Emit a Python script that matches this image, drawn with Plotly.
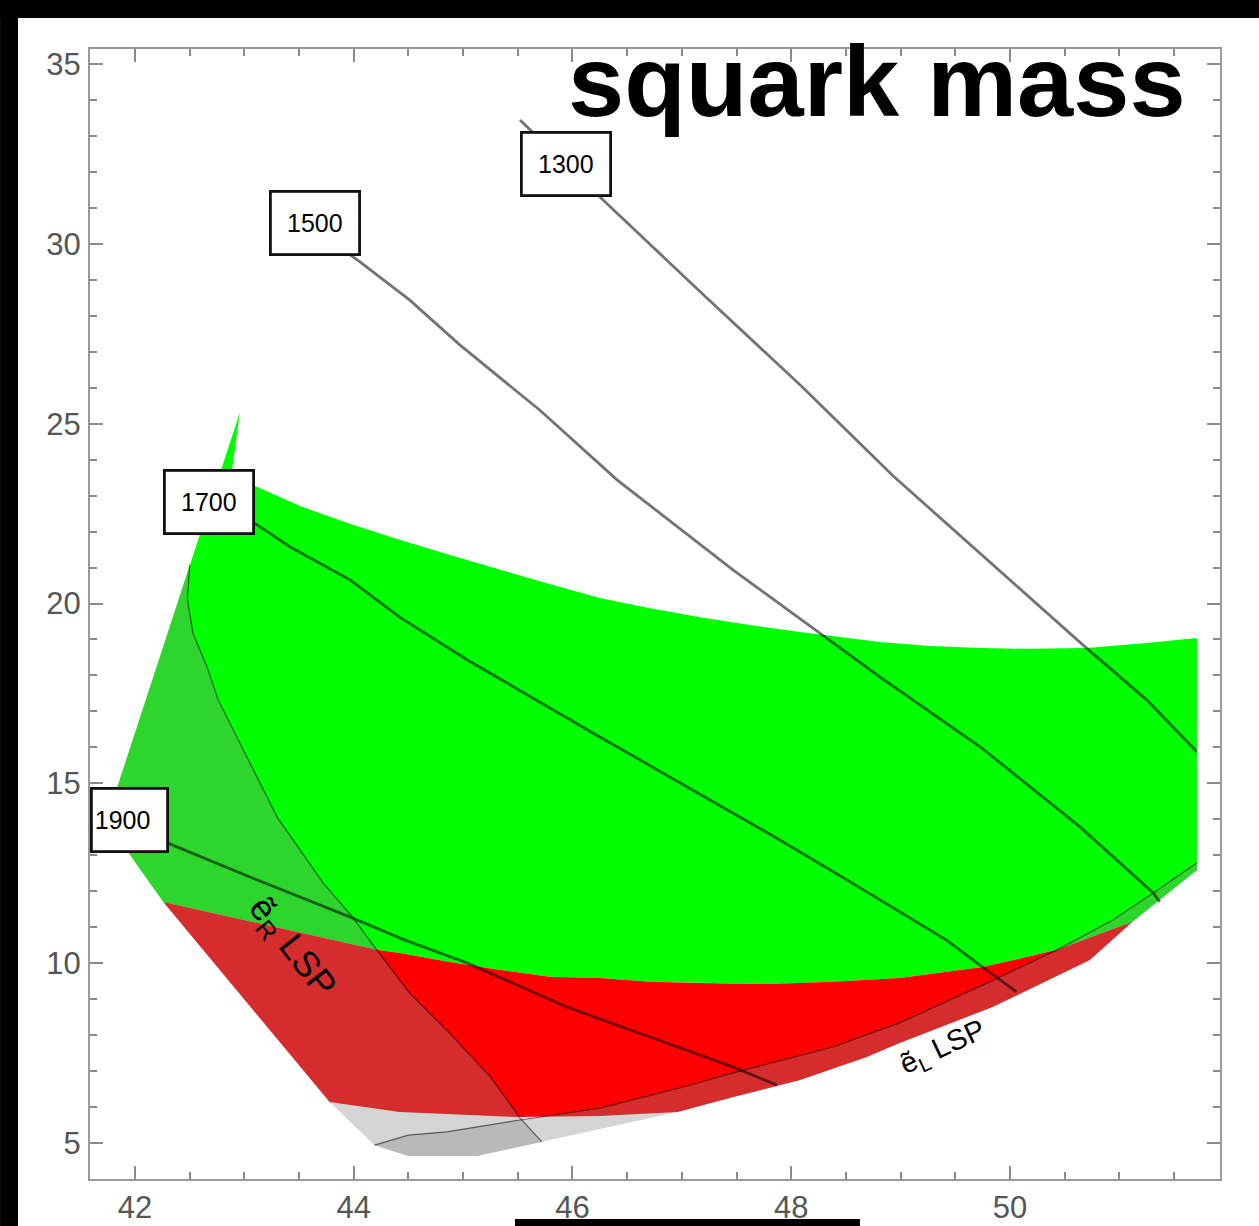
import plotly.graph_objects as go

# ---------------- data (data coordinates) ----------------
# upper boundary of the allowed (green) region, incl. the spike
upper_x = [42.96, 42.88, 43.12, 43.51, 43.97, 44.42, 44.88, 45.34, 45.79, 46.25, 46.71, 47.17, 47.62, 48.08,
           48.45, 48.81, 49.27, 49.73, 50.18, 50.70, 51.25, 51.71]
upper_y = [25.32, 23.55, 23.24, 22.71, 22.21, 21.77, 21.35, 20.93, 20.54, 20.15, 19.87, 19.62, 19.40, 19.21,
           19.07, 18.93, 18.82, 18.76, 18.74, 18.76, 18.90, 19.04]
# lower-right and left corners of the green region
right_x = [51.71, 51.37]
right_y = [12.59, 11.76]
left_x = [42.00, 41.74]
left_y = [12.81, 13.98]
# green / red boundary (left to right)
gr_x = [42.26, 44.21, 44.42, 44.88, 45.34, 45.79, 46.25, 46.71, 47.17, 47.78, 48.38, 48.99, 49.75, 50.43, 51.12]
gr_y = [11.70, 10.37, 10.28, 10.03, 9.81, 9.62, 9.59, 9.48, 9.45, 9.42, 9.48, 9.59, 9.89, 10.37, 11.15]
# lower boundary of the red region (left to right)
rl_x = [42.26, 43.78, 44.42, 45.49, 46.25, 46.96, 47.47, 48.08, 48.69, 48.99, 49.84, 50.73, 51.12, 51.37, 51.71]
rl_y = [11.70, 6.14, 5.86, 5.72, 5.75, 5.86, 6.28, 6.75, 7.39, 7.78, 8.78, 10.09, 11.15, 11.76, 12.59]
# lower boundary of the grey band (left to right)
gl_x = [43.78, 44.19, 44.50, 45.13, 45.72, 46.96]
gl_y = [6.14, 4.94, 4.64, 4.64, 5.03, 5.86]
# selectron-R LSP boundary
eR_x = [42.50, 42.48, 42.53, 42.66, 42.76, 42.99, 43.30, 43.72, 43.99, 44.21, 44.51, 44.91, 45.25, 45.52, 45.72]
eR_y = [21.07, 20.10, 19.18, 18.23, 17.32, 15.93, 14.06, 12.23, 11.28, 10.37, 9.17, 7.95, 6.84, 5.70, 5.03]
# selectron-L LSP boundary
eL_x = [44.19, 44.50, 44.85, 45.52, 46.25, 46.98, 47.47, 48.38, 48.99, 49.75, 50.43, 50.94, 51.31, 51.71]
eL_y = [4.94, 5.22, 5.31, 5.64, 5.97, 6.53, 6.95, 7.67, 8.34, 9.39, 10.37, 11.20, 11.95, 12.79]

# squark-mass contours
sq_levels = ["1300", "1500", "1700", "1900"]
c1300_x = [45.52, 46.28, 47.17, 48.08, 48.93, 49.79, 50.70, 51.25, 51.71]
c1300_y = [33.44, 31.22, 28.66, 26.08, 23.55, 21.21, 18.76, 17.32, 15.87]
c1500_x = [43.78, 44.06, 44.51, 44.97, 45.70, 46.41, 47.47, 48.29, 48.81, 49.73, 50.64, 51.31, 51.37]
c1500_y = [30.11, 29.49, 28.44, 27.19, 25.38, 23.43, 20.93, 19.12, 17.96, 16.01, 13.79, 11.95, 11.70]
c1700_x = [42.96, 43.12, 43.42, 43.97, 44.42, 45.04, 46.25, 47.17, 47.90, 48.54, 49.42, 49.75, 50.06]
c1700_y = [22.46, 22.18, 21.57, 20.65, 19.62, 18.43, 16.29, 14.68, 13.42, 12.26, 10.64, 9.89, 9.20]
c1900_x = [42.14, 42.30, 43.12, 43.97, 44.47, 45.04, 45.95, 46.86, 47.47, 47.87]
c1900_y = [13.54, 13.34, 12.31, 11.28, 10.64, 10.00, 8.78, 7.78, 7.11, 6.61]
label_x = [45.94, 43.65, 42.68, 41.95]
label_y = [32.22, 30.57, 22.81, 13.97]

x_ticks = [42, 44, 46, 48, 50]
y_ticks = [5, 10, 15, 20, 25, 30, 35]

# ---------------- figure ----------------
fig = go.Figure()


def poly(xs, ys, color):
    fig.add_trace(go.Scatter(x=xs, y=ys, mode="lines", fill="toself", fillcolor=color,
                             line=dict(width=0, color=color), hoverinfo="skip", showlegend=False))


def curve(xs, ys, color, width):
    fig.add_trace(go.Scatter(x=xs, y=ys, mode="lines", line=dict(color=color, width=width),
                             hoverinfo="skip", showlegend=False))


GREEN = "#00ff00"
RED = "#ff0000"
SHADE = "rgba(133,133,133,0.34)"

green_x = upper_x + right_x + gr_x[::-1] + left_x
green_y = upper_y + right_y + gr_y[::-1] + left_y
poly(green_x, green_y, GREEN)

red_x = gr_x + rl_x[:13][::-1]
red_y = gr_y + rl_y[:13][::-1]
poly(red_x, red_y, RED)

eRreg_x = eR_x + gl_x[3::-1] + [rl_x[0]] + left_x
eRreg_y = eR_y + gl_y[3::-1] + [rl_y[0]] + left_y
poly(eRreg_x, eRreg_y, SHADE)

eLreg_x = eL_x + rl_x[14:4:-1] + gl_x[4:0:-1]
eLreg_y = eL_y + rl_y[14:4:-1] + gl_y[4:0:-1]
poly(eLreg_x, eLreg_y, SHADE)

curve(eR_x, eR_y, "rgba(0,0,0,0.55)", 1.2)
curve(eL_x, eL_y, "rgba(0,0,0,0.55)", 1.2)

CONT = "rgba(0,0,0,0.55)"
for cx, cy in [(c1300_x, c1300_y), (c1500_x, c1500_y), (c1700_x, c1700_y), (c1900_x, c1900_y)]:
    curve(cx, cy, CONT, 2.8)

# contour labels
for i, (lab, lx, ly) in enumerate(zip(sq_levels, label_x, label_y)):
    last = (i == len(sq_levels) - 1)
    fig.add_annotation(x=lx, y=ly, xref="x", yref="y", text=lab, showarrow=False,
                       font=dict(family="Liberation Sans", size=25, color="black"),
                       bgcolor="white", bordercolor="#111111", borderwidth=2.8, borderpad=2,
                       width=69 if last else 82, height=56,
                       align="left" if last else "center")

# region labels
fig.add_annotation(x=43.43, y=10.42, xref="x", yref="y", text="ẽ<sub>R</sub> LSP", showarrow=False,
                   textangle=52, font=dict(family="Liberation Sans", size=36, color="black"))
fig.add_annotation(x=49.39, y=7.64, xref="x", yref="y", text="ẽ<sub>L</sub> LSP", showarrow=False,
                   textangle=-25, font=dict(family="Liberation Sans", size=29, color="black"))

# title
fig.add_annotation(x=0.6969, y=0.9715, xref="paper", yref="paper", text="<b>squark mass</b>", showarrow=False,
                   xanchor="center", yanchor="middle",
                   font=dict(family="Liberation Sans", size=101, color="black"))

# black screenshot borders
for x0, x1, y0, y1 in [(-0.0796, 1.0345, 1.0274, 1.0434),
                       (-0.0796, -0.0637, -0.0416, 1.0434),
                       (0.3761, 0.6814, -0.0416, -0.0354)]:
    fig.add_shape(type="rect", xref="paper", yref="paper", x0=x0, x1=x1, y0=y0, y1=y1,
                  fillcolor="black", line=dict(width=0), layer="above")

axis_common = dict(showgrid=False, zeroline=False, showline=True, linecolor="#9a9a9a", linewidth=2,
                   mirror="ticks", ticks="inside", ticklen=13, tickwidth=1.5, tickcolor="#8a8a8a",
                   automargin=False,
                   tickfont=dict(family="Liberation Sans", size=31, color="#555555"))
fig.update_xaxes(range=[41.589, 51.92], tickvals=x_ticks, ticklabelstandoff=0,
                 minor=dict(dtick=0.5, ticks="inside", ticklen=7, tickwidth=1.5, tickcolor="#8a8a8a"),
                 **axis_common)
fig.update_yaxes(range=[3.999, 35.417], tickvals=y_ticks, ticklabelstandoff=1,
                 minor=dict(dtick=1, ticks="inside", ticklen=7, tickwidth=1.5, tickcolor="#8a8a8a"),
                 **axis_common)

fig.update_layout(width=1259, height=1226, margin=dict(l=90, r=39, t=49, b=47),
                  plot_bgcolor="white", paper_bgcolor="white", showlegend=False)

fig.write_html("out.html", config={"displayModeBar": False})
